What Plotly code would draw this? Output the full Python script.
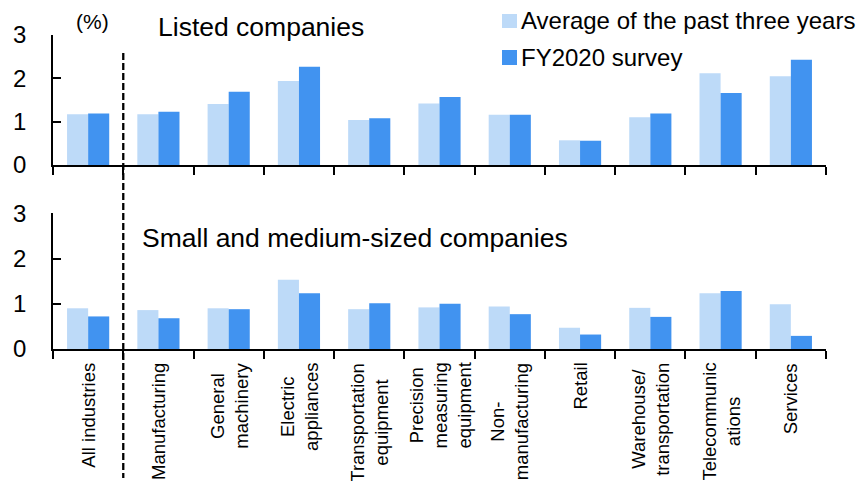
import plotly.graph_objects as go

# ---- data -------------------------------------------------------------
categories = [
    "All industries", "Manufacturing", "General<br>machinery",
    "Electric<br>appliances", "Transportation<br>equipment",
    "Precision<br>measuring<br>equipment", "Non-<br>manufacturing",
    "Retail", "Warehouse/<br>transportation", "Telecommunic<br>ations",
    "Services",
]
series_names = ["Average of the past three years", "FY2020 survey"]

listed_avg = [1.17, 1.17, 1.41, 1.94, 1.04, 1.42, 1.16, 0.57, 1.10, 2.12, 2.05]
listed_fy2020 = [1.19, 1.23, 1.69, 2.27, 1.08, 1.57, 1.16, 0.56, 1.19, 1.66, 2.43]
sme_avg = [0.90, 0.86, 0.90, 1.53, 0.88, 0.92, 0.94, 0.47, 0.91, 1.23, 0.99]
sme_fy2020 = [0.72, 0.68, 0.88, 1.23, 1.01, 1.00, 0.77, 0.32, 0.71, 1.28, 0.29]

y_ticks = [0, 1, 2, 3]
panel_titles = ["Listed companies", "Small and medium-sized companies"]
unit_label = "(%)"

# ---- styling ----------------------------------------------------------
FONT = "Liberation Sans, Arial, sans-serif"
LIGHT = "#BDDAF8"
DARK = "#4193F0"
W, H = 857, 481
ML, MR, MT, MB = 53, 31, 35, 132
PW, PH = W - ML - MR, H - MT - MB


def px_x(x):
    return (x - ML) / PW


def px_y(y):
    return (H - MB - y) / PH


idx = list(range(len(categories)))
bounds = [i - 0.5 for i in range(len(categories) + 1)]
xr = [-0.5, len(categories) - 0.5]

fig = go.Figure()
for vals, color, name, xa, ya in [
    (listed_avg, LIGHT, series_names[0], "x", "y"),
    (listed_fy2020, DARK, series_names[1], "x", "y"),
    (sme_avg, LIGHT, series_names[0], "x2", "y2"),
    (sme_fy2020, DARK, series_names[1], "x2", "y2"),
]:
    fig.add_trace(go.Bar(x=idx, y=vals, name=name, marker=dict(color=color, line=dict(width=0)),
                         xaxis=xa, yaxis=ya, showlegend=False))

axis_common = dict(showline=True, linecolor="black", linewidth=1.5, showgrid=False, zeroline=False)
xcommon = dict(axis_common, range=xr, tickmode="array", tickvals=bounds, ticks="outside",
               ticklen=8, tickwidth=1.5, tickcolor="black", showticklabels=False)
# inner half of the crossing tick marks
xinner = dict(range=xr, tickmode="array", tickvals=bounds, ticks="inside", ticklen=7,
              tickwidth=1.5, tickcolor="black", showticklabels=False, showline=False,
              showgrid=False, zeroline=False)
ycommon = dict(axis_common, range=[0, 3], tickmode="array", tickvals=y_ticks, ticks="inside",
               ticklen=8, tickwidth=1.5, tickcolor="black",
               tickfont=dict(family=FONT, size=24, color="black"), ticklabelstandoff=20)

top_lo, top_hi = px_y(165), px_y(35)
bot_lo, bot_hi = px_y(349), px_y(213.3)

fig.update_layout(
    width=W, height=H, margin=dict(l=ML, r=MR, t=MT, b=MB),
    paper_bgcolor="white", plot_bgcolor="white",
    barmode="group", bargap=0.4, bargroupgap=0,
    font=dict(family=FONT, color="black"),
    xaxis=dict(xcommon, anchor="y"),
    yaxis=dict(ycommon, anchor="x", domain=[top_lo, top_hi]),
    xaxis2=dict(xcommon, anchor="y2"),
    yaxis2=dict(ycommon, anchor="x2", domain=[bot_lo, bot_hi]),
    xaxis3=dict(xinner, overlaying="x", anchor="y"),
    xaxis4=dict(xinner, overlaying="x2", anchor="y2"),
)


def label(text, x, y, size, xanchor="center"):
    return dict(text=text, x=px_x(x), y=px_y(y), xref="paper", yref="paper",
                xanchor=xanchor, yanchor="middle", showarrow=False, font=dict(size=size))


annotations = [
    label(panel_titles[0], 260.5, 27, 26.5),
    label(panel_titles[1], 355, 237.5, 26.5),
    label(unit_label, 92, 22, 21),
]

# category labels, rotated, lines centred and block hanging below the axis
for i, lab in zip(idx, categories):
    annotations.append(dict(text=lab, x=i, xref="x2", y=px_y(361), yref="paper",
                            yanchor="top", xanchor="center", textangle=-90, align="center",
                            showarrow=False, font=dict(size=18.5)))

# legend
shapes = []
for (name, color, ytop, ybot, ymid) in [
    (series_names[0], LIGHT, 14, 28, 20.5),
    (series_names[1], DARK, 50, 65, 57),
]:
    shapes.append(dict(type="rect", xref="paper", yref="paper", x0=px_x(502), x1=px_x(517),
                       y0=px_y(ybot), y1=px_y(ytop), fillcolor=color, line=dict(width=0)))
    annotations.append(label(name, 519, ymid, 24, xanchor="left"))

# dashed separator between "All industries" and the sectors
shapes.append(dict(type="line", xref="x", yref="paper", x0=0.5, x1=0.5,
                   y0=px_y(53), y1=px_y(478), line=dict(color="black", width=2.3, dash="7px,3px")))

fig.update_layout(annotations=annotations, shapes=shapes)
fig.write_html("out.html")
